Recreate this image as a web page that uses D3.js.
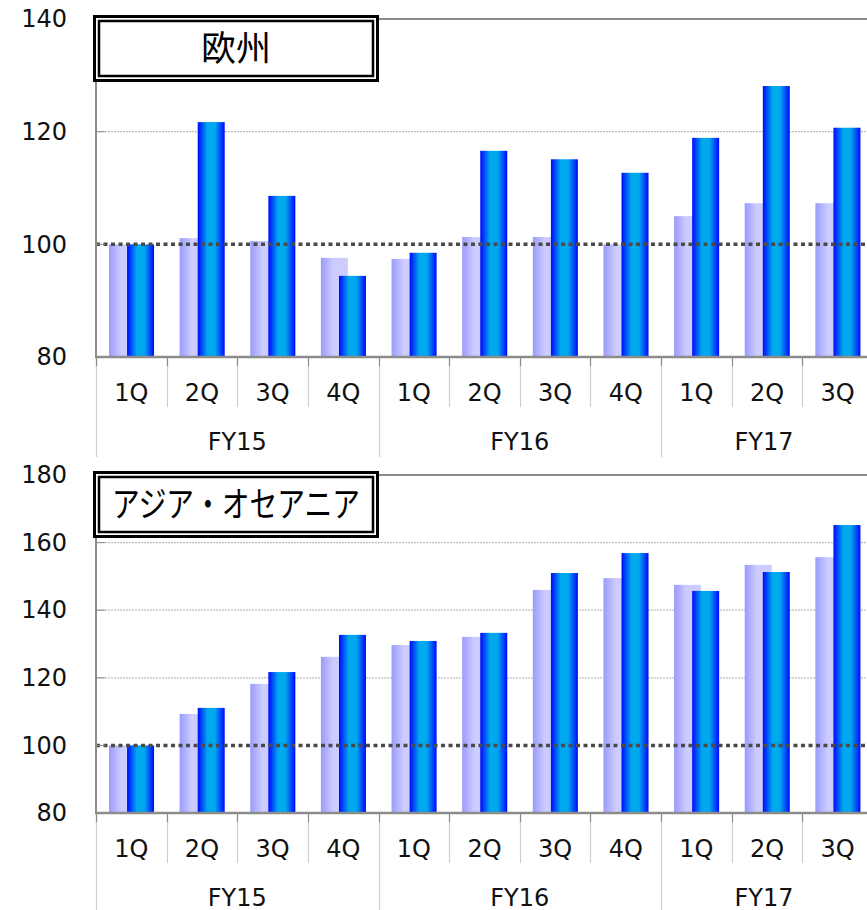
<!DOCTYPE html>
<html><head><meta charset="utf-8">
<script src="https://cdn.jsdelivr.net/npm/d3@7/dist/d3.min.js"></script>
<style>
html,body{margin:0;padding:0;background:#fff;}
svg{display:block;}
</style></head>
<body>
<svg id="chart" width="867" height="910"></svg>
<script>
// ---- data ----
const quarters = ["1Q","2Q","3Q","4Q","1Q","2Q","3Q","4Q","1Q","2Q","3Q"];
const years = ["FY15","FY15","FY15","FY15","FY16","FY16","FY16","FY16","FY17","FY17","FY17"];
const yearGroups = ["FY15","FY16","FY17"];

const europeTitle = "欧州";
const europeLight = [100, 101.1, 100.6, 97.6, 97.4, 101.3, 101.3, 100.0, 105.0, 107.3, 107.3];
const europeBlue  = [100, 121.7, 108.6, 94.4, 98.5, 116.6, 115.1, 112.7, 118.9, 128.1, 120.7];
const europeTicks = [80, 100, 120, 140];

const asiaTitle = "アジア・オセアニア";
const asiaLight = [100, 109.3, 118.2, 126.2, 129.7, 132.1, 146.0, 149.5, 147.5, 153.4, 155.7];
const asiaBlue  = [100, 111.1, 121.7, 132.7, 130.9, 133.3, 151.0, 156.9, 145.7, 151.3, 165.2];
const asiaTicks = [80, 100, 120, 140, 160, 180];

const svg = d3.select("#chart");
const defs = svg.append("defs");

const gl = defs.append("linearGradient").attr("id","gLight").attr("x1","0%").attr("x2","100%").attr("y1","0%").attr("y2","0%");
gl.append("stop").attr("offset","0%").attr("stop-color","#9a9aff");
gl.append("stop").attr("offset","45%").attr("stop-color","#ccccff");
gl.append("stop").attr("offset","100%").attr("stop-color","#ccccff");

const gb = defs.append("linearGradient").attr("id","gBlue").attr("x1","0%").attr("x2","100%").attr("y1","0%").attr("y2","0%");
gb.append("stop").attr("offset","0%").attr("stop-color","#0008ff");
gb.append("stop").attr("offset","36%").attr("stop-color","#00a8ee");
gb.append("stop").attr("offset","64%").attr("stop-color","#00a8ee");
gb.append("stop").attr("offset","100%").attr("stop-color","#0008ff");

const X0 = 96, X1 = 873;
const idx = quarters.map((q,i)=>i);
const x = d3.scaleBand().domain(idx).range([X0, X1]).padding(0);

function panel(cfg){
  const {top, bottom, ticks, light, blue, title} = cfg;
  const y = d3.scaleLinear().domain([ticks[0], ticks[ticks.length-1]]).range([bottom, top]);
  const g = svg.append("g");
  const bw = x.bandwidth();

  // gridlines (light dotted)
  g.selectAll(".grid").data(ticks.filter(t=>t!==100 && t!==ticks[0] && t!==ticks[ticks.length-1]))
    .join("line")
    .attr("x1", X0).attr("x2", 867).attr("y1", d=>y(d)).attr("y2", d=>y(d))
    .attr("stroke","#bdbdbd").attr("stroke-width",1.3).attr("stroke-dasharray","2,1");

  // top border
  g.append("line").attr("x1",X0).attr("x2",867).attr("y1",y(ticks[ticks.length-1])).attr("y2",y(ticks[ticks.length-1]))
    .attr("stroke","#8c8c8c").attr("stroke-width",2);

  // bars
  g.selectAll(".bl").data(light).join("rect")
    .attr("x",(d,i)=>x(i)+bw*0.184).attr("width",bw*0.382)
    .attr("y",d=>y(d)).attr("height",d=>y(ticks[0])-y(d))
    .attr("fill","url(#gLight)");
  g.selectAll(".bb").data(blue).join("rect")
    .attr("x",(d,i)=>x(i)+bw*0.44).attr("width",bw*0.382)
    .attr("y",d=>y(d)).attr("height",d=>y(ticks[0])-y(d))
    .attr("fill","url(#gBlue)");

  // 100 reference line
  g.append("line").attr("x1",X0).attr("x2",867).attr("y1",y(100)).attr("y2",y(100))
    .attr("stroke","#4a4a4a").attr("stroke-width",3.5).attr("stroke-dasharray","4,3.5");

  // y axis
  const yAxis = d3.axisLeft(y).tickValues(ticks).tickSize(0).tickPadding(29);
  const ya = g.append("g").attr("transform",`translate(${X0},0)`).call(yAxis);
  ya.select(".domain").remove();
  ya.selectAll("text").attr("font-family","DejaVu Sans, Verdana, sans-serif").attr("font-size",24).attr("fill","#111");
  // inner tick marks
  g.selectAll(".yt").data(ticks).join("line")
    .attr("x1",X0).attr("x2",X0+9).attr("y1",d=>y(d)).attr("y2",d=>y(d))
    .attr("stroke","#8c8c8c").attr("stroke-width",1);
  g.append("line").attr("x1",X0).attr("x2",X0).attr("y1",top-1).attr("y2",bottom)
    .attr("stroke","#8c8c8c").attr("stroke-width",2);

  // x axis
  g.append("line").attr("x1",X0-1).attr("x2",867).attr("y1",bottom).attr("y2",bottom)
    .attr("stroke","#8c8c8c").attr("stroke-width",2.5);
  const bounds = idx.map(i=>({i, pos:x(i), group: i===0 || years[i]!==years[i-1]}));
  g.selectAll(".xt").data(bounds).join("line")
    .attr("x1",d=>Math.round(d.pos)+0.5).attr("x2",d=>Math.round(d.pos)+0.5)
    .attr("y1",bottom+1).attr("y2",d=>bottom+(d.group?100:50))
    .attr("stroke","#cfcfcf").attr("stroke-width",1.2);
  g.selectAll(".xt2").data(bounds).join("line")
    .attr("x1",d=>Math.round(d.pos)+0.5).attr("x2",d=>Math.round(d.pos)+0.5)
    .attr("y1",bottom+1).attr("y2",bottom+9)
    .attr("stroke","#8c8c8c").attr("stroke-width",1.2);

  g.selectAll(".ql").data(quarters).join("text")
    .attr("x",(d,i)=>x(i)+bw/2).attr("y",bottom+35).attr("dy","0.36em")
    .attr("text-anchor","middle")
    .attr("font-family","DejaVu Sans, Verdana, sans-serif").attr("font-size",24).attr("fill","#111")
    .text(d=>d);

  g.selectAll(".yl").data(yearGroups).join("text")
    .attr("x",d=>{
      const ii = idx.filter(i=>years[i]===d);
      const a = x(ii[0]), b = Math.min(867, x(ii[ii.length-1])+bw);
      return (a+b)/2;
    })
    .attr("y",bottom+84).attr("dy","0.36em")
    .attr("text-anchor","middle")
    .attr("font-family","DejaVu Sans, Verdana, sans-serif").attr("font-size",24).attr("fill","#111")
    .text(d=>d);

  // title box
  const bx = 93, by = top-4, bwid = 286, bh = 67;
  g.append("rect").attr("x",bx+1.5).attr("y",by+1.5).attr("width",bwid-3).attr("height",bh-3)
    .attr("fill","#fff").attr("stroke","#000").attr("stroke-width",3);
  g.append("rect").attr("x",bx+6).attr("y",by+6).attr("width",bwid-12).attr("height",bh-12)
    .attr("fill","none").attr("stroke","#000").attr("stroke-width",2.5);
  const t = g.append("text").attr("x",bx+bwid/2).attr("y",by+bh/2).attr("dy","0.36em")
    .attr("text-anchor","middle")
    .attr("font-family","Noto Sans CJK JP, sans-serif").attr("font-size",cfg.titleSize).attr("fill","#000")
    .text(title);
  if (cfg.titleLen) t.attr("textLength",cfg.titleLen).attr("lengthAdjust","spacingAndGlyphs");
}

panel({top:19, bottom:357, ticks:europeTicks, light:europeLight, blue:europeBlue, title:europeTitle, titleSize:35});
panel({top:475, bottom:813, ticks:asiaTicks, light:asiaLight, blue:asiaBlue, title:asiaTitle, titleSize:35, titleLen:248});
</script>
</body></html>
